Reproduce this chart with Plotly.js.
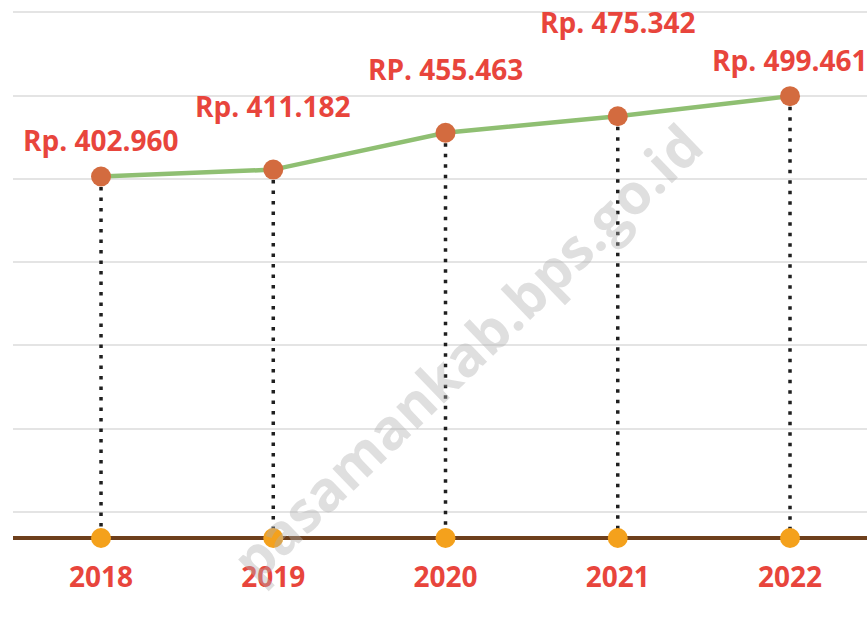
<!DOCTYPE html>
<html>
<head>
<meta charset="utf-8">
<script src="https://cdn.plot.ly/plotly-3.0.1.min.js"></script>
<style>
  html, body { margin: 0; padding: 0; background: #ffffff; }
  #chart { width: 867px; height: 625px; }
</style>
</head>
<body>
<div id="chart"></div>
<script>
// ---- data ----
const years = [2018, 2019, 2020, 2021, 2022];
const values = [402960, 411182, 455463, 475342, 499461];
const valueLabels = ["Rp. 402.960", "Rp. 411.182", "RP. 455.463", "Rp. 475.342", "Rp. 499.461"];
const yearLabels = ["2018", "2019", "2020", "2021", "2022"];

// ---- styling / layout helpers (not data) ----
const labelShift = [36, 64, 64, 94, 36];
const yRange = [-33700, 614922];
const baseValue = -31288;
const xRange = [2017.489, 2022.447];
const red = "#e8453c";
const labelFont = { family: "Open Sans, sans-serif", size: 28, color: red, weight: 700 };

// dotted drop lines built from the data
const dropX = [], dropY = [];
years.forEach((yr, i) => {
  dropX.push(yr, yr, null);
  dropY.push(values[i], baseValue, null);
});

const traces = [
  {
    x: dropX, y: dropY, mode: "lines", type: "scatter",
    line: { color: "#1f1f1f", width: 3.5, dash: "3.5px,7px" },
    hoverinfo: "skip", cliponaxis: false
  },
  {
    x: xRange, y: [baseValue, baseValue], mode: "lines", type: "scatter",
    line: { color: "#6e3f1c", width: 4 },
    hoverinfo: "skip", cliponaxis: false
  },
  {
    x: years, y: values, mode: "lines", type: "scatter",
    line: { color: "#8fbf72", width: 4.5 },
    hoverinfo: "skip"
  },
  {
    x: years, y: values, mode: "markers", type: "scatter",
    marker: { color: "#d36b3f", size: 20 },
    cliponaxis: false
  },
  {
    x: years, y: years.map(() => baseValue), mode: "markers", type: "scatter",
    marker: { color: "#f4a11c", size: 20 },
    cliponaxis: false
  }
];

const annotations = years.map((yr, i) => ({
  x: yr, y: values[i], xref: "x", yref: "y",
  text: valueLabels[i], showarrow: false,
  yshift: labelShift[i], yanchor: "middle", xanchor: "center",
  font: labelFont
}));

annotations.push({
  xref: "paper", yref: "paper", x: 0.531, y: 0.35,
  text: "pasamankab.bps.go.id", showarrow: false, textangle: -44,
  font: { family: "Open Sans, sans-serif", size: 56, color: "rgba(175,175,175,0.4)", weight: 700 }
});

const layout = {
  width: 867, height: 625,
  margin: { l: 13, r: 0, t: 0, b: 85 },
  paper_bgcolor: "#ffffff", plot_bgcolor: "#ffffff",
  showlegend: false,
  xaxis: {
    range: xRange, showgrid: false, zeroline: false,
    showline: false,
    tickmode: "array", tickvals: years, ticktext: yearLabels,
    ticks: "outside", ticklen: 12, tickcolor: "rgba(0,0,0,0)",
    tickfont: labelFont
  },
  yaxis: {
    range: yRange, showgrid: true, gridcolor: "#e4e4e4", gridwidth: 2,
    dtick: 100000, tick0: 0, zeroline: false, showticklabels: false, ticks: ""
  },
  annotations: annotations
};

Plotly.newPlot("chart", traces, layout, { displayModeBar: false, staticPlot: true });
</script>
</body>
</html>
